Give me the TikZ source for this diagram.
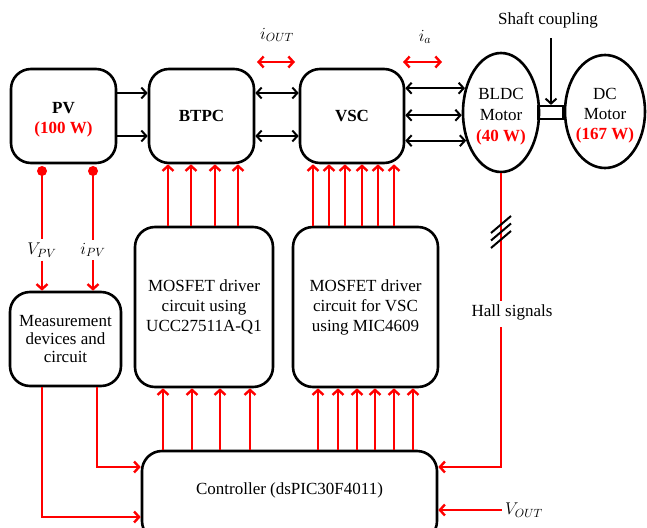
\documentclass[tikz,border=0pt]{standalone}
\usepackage{fix-cm}
\usepackage{fontspec}
\setmainfont{Liberation Serif}
\usetikzlibrary{arrows.meta,shapes.geometric}

\definecolor{bdink}{HTML}{000000}
\definecolor{bdred}{HTML}{FF0000}

\begin{document}
\begin{tikzpicture}[
  x=1pt, y=-1pt,
  font=\fontsize{17}{20}\selectfont,
  blk/.style={draw=bdink, line width=2.6pt, rounded corners=20pt,
    align=center, inner sep=0pt},
  oval/.style={draw=bdink, line width=2.6pt, ellipse, align=center,
    inner sep=0pt},
  tip/.style={-{Straight Barb[length=5pt,width=11pt]}},
  tips/.style={{Straight Barb[length=5pt,width=11pt]}-{Straight Barb[length=5pt,width=11pt]}},
  pwr/.style={bdink, line width=2pt},
  sig/.style={bdred, line width=2.4pt},
  dot/.style={circle, fill=bdred, inner sep=0pt, minimum size=10pt},
  inside/.style={label={[align=center, inner sep=0pt, yshift=-4pt]center:#1}},
]
\useasboundingbox (0,0) rectangle (647,527);
\clip (0,0) rectangle (647,527);

\node[blk, minimum width=105pt, minimum height=94pt,
  inside={\textbf{PV}\\\textcolor{bdred}{\textbf{(100 W)}}}] (pv) at (63.5,116) {};
\node[blk, minimum width=105pt, minimum height=94pt] (btpc) at (201.5,116)
  {\textbf{BTPC}};
\node[blk, minimum width=104pt, minimum height=94pt] (vsc) at (352,116)
  {\textbf{VSC}};
\node[oval, minimum width=76pt, minimum height=119pt,
  inside={BLDC\\[1pt]Motor\\[1pt]\textcolor{bdred}{\textbf{(40 W)}}}] (bldc) at (501,112.5) {};
\node[oval, minimum width=80pt, minimum height=113pt,
  inside={DC\\Motor\\\textcolor{bdred}{\textbf{(167 W)}}}] (dcm) at (605,111.5) {};
\node[draw=bdink, line width=2.2pt, minimum width=25pt, minimum height=13pt,
  inner sep=0pt] (cpl) at (551,112.5) {};

\node (shaft) at (548,20) {Shaft coupling};
\draw[pwr, tip, shorten <=7pt] (shaft.south -| cpl.north) -- (cpl.north);

\node (iout) at (277,35) {$i_{OUT}$};
\coordinate (ioutL) at (257,62);
\coordinate (ioutR) at (295,62);
\draw[sig, tips] (ioutL) -- (ioutR);
\node (ia) at (425,37) {$i_a$};
\coordinate (iaL) at (403,62);
\coordinate (iaR) at (442,62);
\draw[sig, tips] (iaL) -- (iaR);

\foreach \yy in {93,136} {
  \coordinate (row) at (0,\yy);
  \draw[pwr, tip] (pv.east |- row) -- (btpc.west |- row);
  \draw[pwr, tips] (btpc.east |- row) -- (vsc.west |- row);
}
\foreach \ang in {146,184,219}
  \draw[pwr, tips] (vsc.east |- bldc.\ang) -- (bldc.\ang);

\node[blk, minimum width=111pt, minimum height=94pt,
  font=\fontsize{17}{18}\selectfont] (meas) at (65.5,339)
  {Measurement\\devices and\\circuit};
\node[blk, minimum width=138pt, minimum height=160pt] (drva) at (204,307)
  {MOSFET driver\\circuit using\\UCC27511A-Q1};
\node[blk, minimum width=145pt, minimum height=160pt] (drvb) at (365.5,307)
  {MOSFET driver\\circuit for VSC\\using MIC4609};
\node[blk, minimum width=295pt, minimum height=90pt] (ctrl) at (289.5,496) {};
\node (ctrltxt) at (289.5,490) {Controller (dsPIC30F4011)};

\foreach \xx in {168,191,215,238} {
  \coordinate (col) at (\xx,0);
  \draw[sig, tip] (drva.north -| col) -- (btpc.south -| col);
}
\foreach \xx in {313,329,345,362,378,394} {
  \coordinate (col) at (\xx,0);
  \draw[sig, tip] (drvb.north -| col) -- (vsc.south -| col);
}
\foreach \xx in {163,192,220,250} {
  \coordinate (col) at (\xx,0);
  \draw[sig, tip] (ctrl.north -| col) -- (drva.south -| col);
}
\foreach \xx in {318,338,357,375,394,413} {
  \coordinate (col) at (\xx,0);
  \draw[sig, tip] (ctrl.north -| col) -- (drvb.south -| col);
}

\node[dot] (vdot) at (42,171) {};
\node[dot] (idot) at (93,171) {};
\node (vpv) at (42,250) {$V_{PV}$};
\node (ipv) at (93,250) {$i_{PV}$};
\draw[sig] (vdot.center) -- (vpv.north);
\draw[sig] (idot.center) -- (ipv.north);
\draw[sig, tip] (vpv.south) -- (meas.north -| vpv.south);
\draw[sig, tip] (ipv.south) -- (meas.north -| ipv.south);

\coordinate (mlo) at (0,517);
\coordinate (mhi) at (97,467);
\draw[sig, tip] (meas.south -| vdot) |- (ctrl.west |- mlo);
\draw[sig, tip] (meas.south -| mhi) |- (ctrl.west |- mhi);

\node (hall) at (512,312) {Hall signals};
\draw[sig] (bldc.south) -- (hall.north -| bldc.south);
\draw[sig, tip, shorten <=4pt] (hall.south -| bldc.south) |- (ctrl.east |- mhi);
\coordinate (slash) at (bldc.south |- 0,232);
\foreach \dy in {-7.5,0,7.5}
  \draw[pwr] ([shift={(-10,\dy+8.5)}]slash) -- ([shift={(10,\dy-8.5)}]slash);

\node (vout) at (524,510) {$V_{OUT}$};
\draw[sig, tip] (vout.west) -- (ctrl.east |- vout.west);

\end{tikzpicture}
\end{document}
